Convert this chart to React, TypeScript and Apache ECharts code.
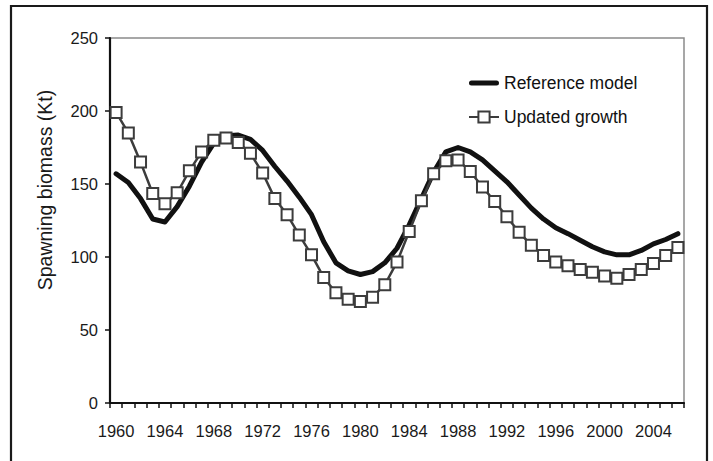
import React, { useEffect, useRef } from "react";
import * as echarts from "echarts";

const years: string[] = [];
for (let y = 1960; y <= 2006; y++) years.push(String(y));

const referenceModel = [
  157, 151, 140, 126, 124, 134.5, 148.5, 165, 178, 183,
  183.5, 180.5, 173, 162, 152, 141, 129, 110.5, 96, 90.5,
  88, 90, 96, 106, 122, 140, 158, 172, 175, 172,
  166.5, 159, 151.5, 142.5, 133.5, 126, 120, 116, 111.5, 107,
  103.5, 101.5, 101.5, 104.5, 109, 112, 116,
];

const updatedGrowth = [
  199, 185, 165, 143.5, 136.5, 144, 159, 172, 180, 181.5,
  178.5, 171, 157.5, 140, 129, 115, 101.5, 86, 75.5, 71,
  69.5, 72.5, 81, 96.5, 117.5, 138.5, 157, 166, 166.5, 158.5,
  148, 138, 127.5, 117, 108, 101, 96.5, 94, 91.5, 89.5,
  87, 85.5, 88, 91.5, 95.5, 101, 106.5,
];

const yTitle = "Spawning biomass (Kt)";

const FONT = "'Liberation Sans', Arial, sans-serif";

export default function App() {
  const ref = useRef<HTMLDivElement>(null);
  useEffect(() => {
    if (!ref.current) return;
    const chart = echarts.init(ref.current, undefined, { renderer: "svg" });
    chart.setOption({
      animation: false,
      backgroundColor: "#ffffff",
      textStyle: { fontFamily: FONT },
      graphic: [
        {
          type: "rect",
          shape: { x: 11, y: 6, width: 696, height: 480 },
          style: { fill: "none", stroke: "#1a1a1a", lineWidth: 2.2 },
          silent: true,
          z: 100,
        },
        {
          type: "text",
          x: 45,
          y: 190,
          rotation: Math.PI / 2,
          style: {
            text: yTitle,
            fill: "#1a1a1a",
            font: "19.5px 'Liberation Sans', Arial, sans-serif",
            align: "center",
            verticalAlign: "middle",
          },
          silent: true,
        },
      ],
      grid: {
        left: 110,
        top: 38,
        right: 29,
        bottom: 58,
        show: true,
        borderColor: "#8a8a8a",
        borderWidth: 1.5,
        backgroundColor: "transparent",
      },
      legend: {
        orient: "vertical",
        left: 463,
        top: 69,
        itemWidth: 30,
        itemHeight: 14,
        itemGap: 16,
        textStyle: { fontSize: 17.5, color: "#111", fontFamily: FONT },
        data: [
          {
            name: "Reference model",
            icon: "path://M2.5,0 L27.5,0 A2.5,2.5 0 0 1 27.5,5 L2.5,5 A2.5,2.5 0 0 1 2.5,0 Z",
            itemStyle: { color: "#111" },
          },
          { name: "Updated growth" },
        ],
      },
      xAxis: {
        type: "category",
        data: years,
        boundaryGap: true,
        axisLine: { show: true, lineStyle: { color: "#111", width: 2.2 } },
        axisTick: {
          show: true,
          interval: 0,
          length: 5,
          lineStyle: { color: "#111", width: 1.5 },
        },
        axisLabel: {
          interval: 3,
          margin: 19,
          fontSize: 16.5,
          color: "#1a1a1a",
          fontFamily: FONT,
        },
        splitLine: { show: false },
      },
      yAxis: {
        type: "value",
        min: 0,
        max: 250,
        interval: 50,
        axisLine: { show: true, lineStyle: { color: "#111", width: 2.2 } },
        axisTick: { show: true, length: 5, lineStyle: { color: "#111", width: 1.5 } },
        axisLabel: { margin: 12, fontSize: 16.5, color: "#1a1a1a", fontFamily: FONT },
        splitLine: { show: false },
      },
      series: [
        {
          name: "Reference model",
          type: "line",
          data: referenceModel,
          symbol: "none",
          showSymbol: false,
          lineStyle: { color: "#111", width: 5, cap: "round", join: "round" },
          itemStyle: { color: "#111" },
          z: 2,
        },
        {
          name: "Updated growth",
          type: "line",
          data: updatedGrowth,
          symbol: "rect",
          symbolSize: 11,
          showSymbol: true,
          showAllSymbol: true,
          lineStyle: { color: "#3c3c3c", width: 2.5 },
          itemStyle: { color: "#ffffff", borderColor: "#3c3c3c", borderWidth: 2 },
          z: 3,
        },
      ],
    });
    return () => chart.dispose();
  }, []);
  return (
    <div
      ref={ref}
      style={{ position: "absolute", left: 0, top: 0, width: 713, height: 461 }}
    />
  );
}
